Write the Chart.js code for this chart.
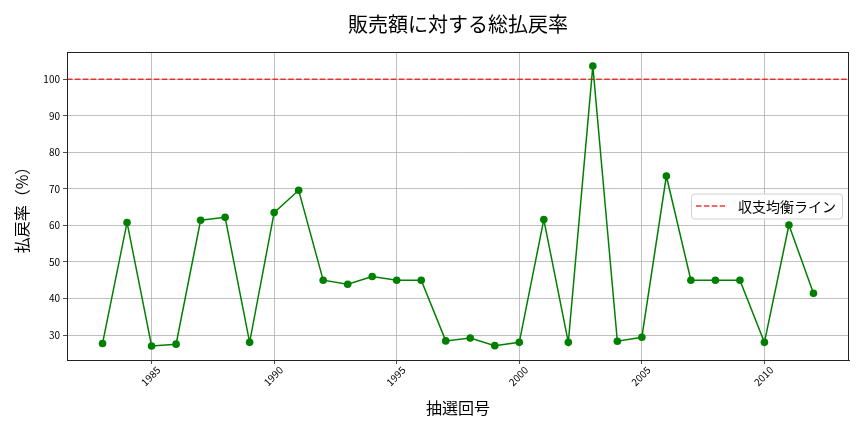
<!DOCTYPE html>
<html>
<head>
<meta charset="utf-8">
<script src="https://cdn.jsdelivr.net/npm/chart.js@4.4.1/dist/chart.umd.min.js"></script>
<style>
html,body{margin:0;padding:0;background:#fff;}
#wrap{width:864px;height:432px;position:relative;}
</style>
</head>
<body>
<div id="wrap"><canvas id="c" width="864" height="432"></canvas></div>
<script>
const years = [1983,1984,1985,1986,1987,1988,1989,1990,1991,1992,1993,1994,1995,1996,1997,1998,1999,2000,2001,2002,2003,2004,2005,2006,2007,2008,2009,2010,2011,2012];
const rates = [27.7,60.8,27.0,27.5,61.4,62.2,28.0,63.5,69.6,45.0,43.9,46.0,45.0,45.0,28.4,29.2,27.1,28.0,61.6,28.0,103.6,28.3,29.4,73.5,45.0,45.0,45.0,28.0,60.1,41.4];
const breakEven = 100;
const xTicks = [1985,1990,1995,2000,2005,2010];
const yTicks = [30,40,50,60,70,80,90,100];
const titleText = '販売額に対する総払戻率';
const xTitle = '抽選回号';
const yTitle = '払戻率（%）';
const legendLabel = '収支均衡ライン';

const FONT = '"Noto Sans CJK JP", "Noto Sans", sans-serif';
const xPad = (years[years.length-1]-years[0])*0.05;
const xMin = years[0]-xPad, xMax = years[years.length-1]+xPad;
const yLo = Math.min(...rates, breakEven), yHi = Math.max(...rates, breakEven);
const yPad = (yHi-yLo)*0.05;
const yMin = yLo-yPad, yMax = yHi+yPad;

const redColor = 'rgba(232,30,30,0.88)';

const framePlugin = {
  id:'frame',
  afterDatasetsDraw(chart){
    const {ctx, chartArea:a} = chart;
    ctx.save();
    ctx.strokeStyle = '#222';
    ctx.lineWidth = 1;
    ctx.strokeRect(a.left+0.5, a.top+0.5, a.right-a.left-1, a.bottom-a.top);
    ctx.restore();
  }
};

const titlePlugin = {
  id:'axTitle',
  afterDraw(chart){
    const {ctx, chartArea:a} = chart;
    ctx.save();
    ctx.font = '20px ' + FONT;
    ctx.fillStyle = '#000';
    ctx.textAlign = 'center';
    ctx.textBaseline = 'middle';
    ctx.fillText(titleText, (a.left+a.right)/2, 24);
    ctx.restore();
  }
};

const legendPlugin = {
  id:'customLegend',
  afterDraw(chart){
    const {ctx, chartArea:a} = chart;
    ctx.save();
    ctx.font = '14px ' + FONT;
    const tw = ctx.measureText(legendLabel).width;
    const lineLen = 29, padL = 5, gap = 13, padR = 6;
    const w = padL + lineLen + gap + tw + padR;
    const h = 25;
    const x = a.right - 7 - w;
    const y = (a.top + a.bottom)/2 - h/2;
    ctx.fillStyle = 'rgba(255,255,255,0.8)';
    ctx.strokeStyle = '#d0d0d0';
    ctx.lineWidth = 1;
    ctx.beginPath();
    if (ctx.roundRect) ctx.roundRect(x+0.5, y+0.5, w, h, 3); else ctx.rect(x+0.5,y+0.5,w,h);
    ctx.fill(); ctx.stroke();
    ctx.strokeStyle = redColor;
    ctx.lineWidth = 1.5;
    ctx.setLineDash([5.5,2.4]);
    ctx.beginPath();
    ctx.moveTo(x+padL, y+h/2); ctx.lineTo(x+padL+lineLen, y+h/2);
    ctx.stroke();
    ctx.setLineDash([]);
    ctx.fillStyle = '#000';
    ctx.textBaseline = 'middle';
    ctx.textAlign = 'left';
    ctx.fillText(legendLabel, x+padL+lineLen+gap, y+h/2+1);
    ctx.restore();
  }
};

new Chart(document.getElementById('c'), {
  type:'line',
  data:{
    datasets:[
      {
        label: legendLabel,
        data: [{x:xMin,y:breakEven},{x:xMax,y:breakEven}],
        borderColor: redColor,
        borderWidth: 1.5,
        borderDash: [5.5,2.4],
        pointRadius: 0,
        fill:false,
        order: 2
      },
      {
        label:'払戻率',
        data: years.map((y,i)=>({x:y,y:rates[i]})),
        borderColor:'#008000',
        backgroundColor:'#008000',
        borderWidth:1.5,
        pointRadius:3.8,
        pointBorderWidth:0,
        pointBackgroundColor:'#008000',
        tension:0,
        fill:false,
        order: 1
      }
    ]
  },
  options:{
    responsive:false,
    animation:false,
    devicePixelRatio:1,
    layout:{padding:{left:0,right:15,top:52,bottom:0}},
    plugins:{
      legend:{display:false},
      tooltip:{enabled:false},
      title:{display:false}
    },
    scales:{
      x:{
        type:'linear',
        min:xMin, max:xMax,
        afterBuildTicks(s){ s.ticks = xTicks.map(v=>({value:v})); },
        afterFit(s){ s.height = 72; },
        grid:{color:'#b0b0b0',lineWidth:0.8,drawTicks:true,tickLength:4,tickColor:'#222'},
        border:{display:true,color:'#222',width:1},
        ticks:{
          color:'#000',
          font:{family:FONT,size:10},
          maxRotation:45,minRotation:45,
          padding:0,
          labelOffset:7,
          callback:(v)=>String(v)
        },
        title:{
          display:true,text:xTitle,color:'#000',
          font:{family:FONT,size:16,lineHeight:1.2},
          padding:{top:0,bottom:14}
        }
      },
      y:{
        type:'linear',
        min:yMin,max:yMax,
        afterBuildTicks(s){ s.ticks = yTicks.map(v=>({value:v})); },
        afterFit(s){ s.width = 67; },
        grid:{color:'#b0b0b0',lineWidth:0.8,drawTicks:true,tickLength:4,tickColor:'#222'},
        border:{display:true,color:'#222',width:1},
        ticks:{
          color:'#000',
          font:{family:FONT,size:10},
          padding:3,
          callback:(v)=>String(v)
        },
        title:{
          display:true,text:yTitle,color:'#000',
          font:{family:FONT,size:16,lineHeight:1.2},
          padding:{top:12,bottom:0}
        }
      }
    }
  },
  plugins:[framePlugin, titlePlugin, legendPlugin]
});
</script>
</body>
</html>
